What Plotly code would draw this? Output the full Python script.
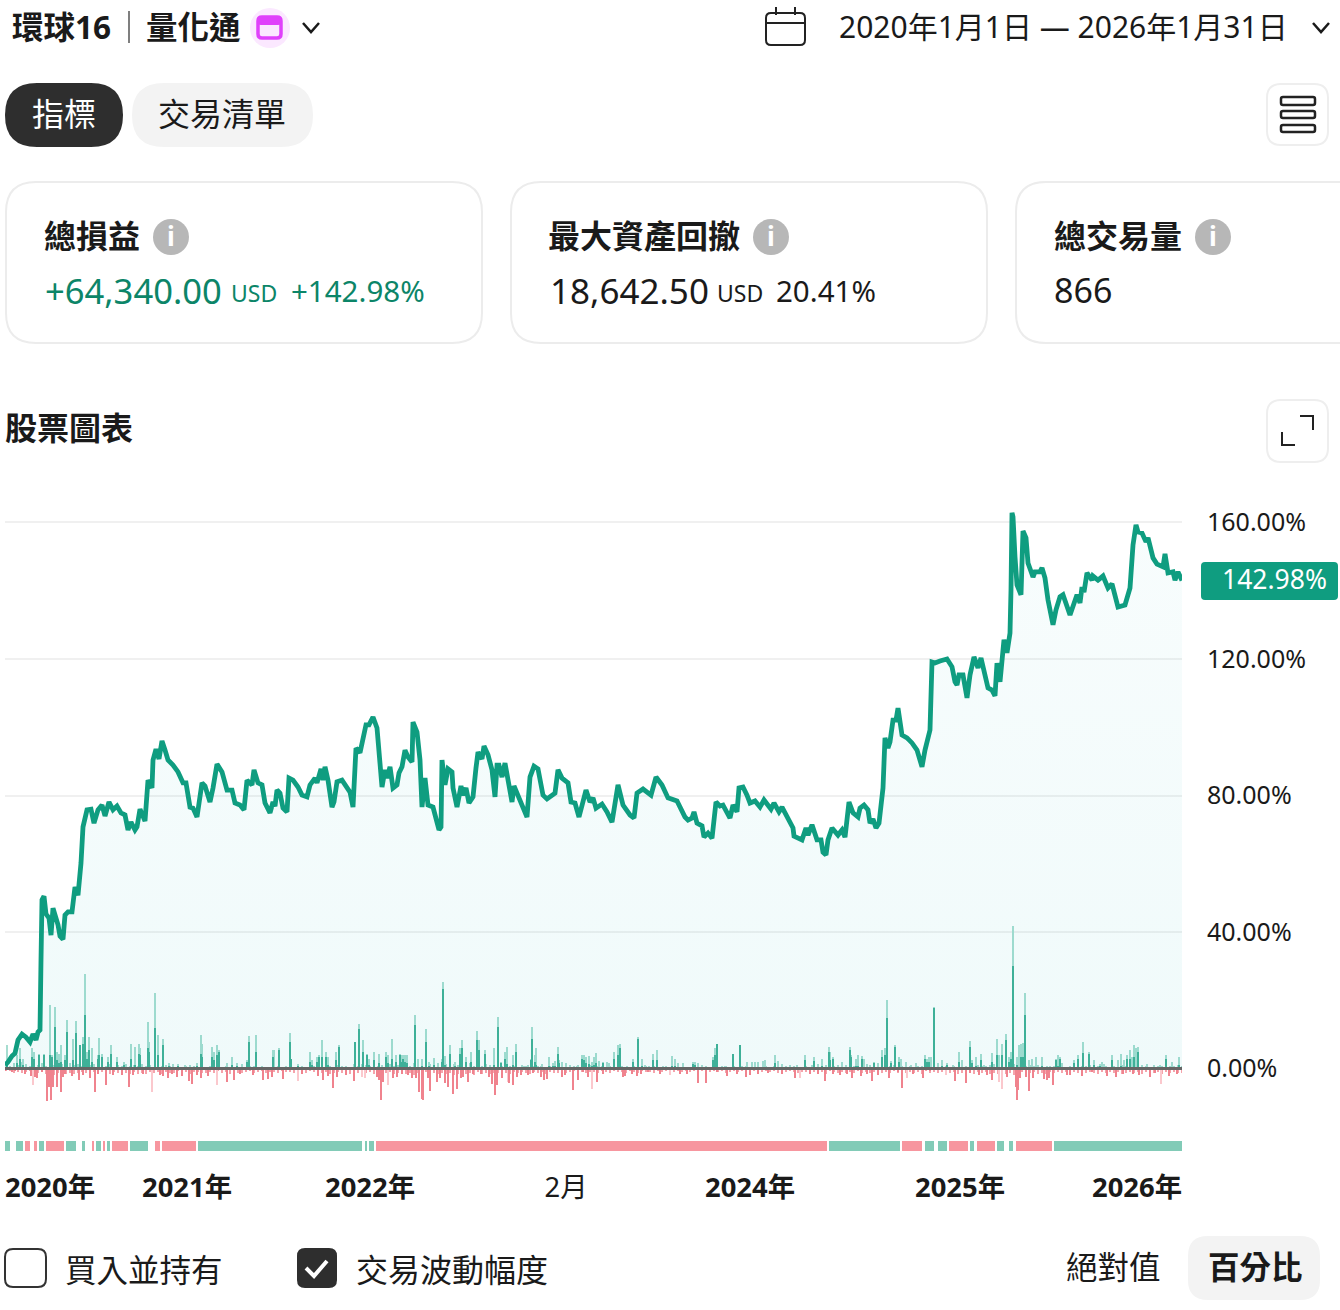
import plotly.graph_objects as go

W = 1340
H = 1310
FONT = "Noto Sans, Noto Sans CJK TC, sans-serif"
DARK = "#1a1a1a"
GREEN = "#0f9d80"
TEXT_GREEN = "#0c8568"

# equity curve (bar number, percent)
equity_bar = [0,3,7,10,13,17,21,25,28,31,33,35,36,37,39,41,44,46,48,51,53,55,58,60,63,67,70,73,76,78,80,82,86,89,93,97,100,104,108,112,116,120,123,126,130,132,135,140,143,147,148,151,154,157,160,163,168,173,178,181,185,188,192,197,200,205,208,212,217,222,227,230,235,239,242,247,249,253,257,260,265,268,270,272,275,278,282,284,288,293,297,302,305,310,312,316,318,320,323,327,329,332,337,342,345,348,351,355,358,361,364,368,372,375,377,380,382,385,388,392,394,397,400,403,407,408,412,415,417,420,423,428,434,436,437,440,443,447,448,452,456,458,461,464,468,471,473,477,479,483,487,490,492,494,497,500,505,507,509,513,517,522,525,529,533,538,542,550,553,557,563,566,570,574,581,585,588,591,597,602,607,613,618,625,629,632,638,646,651,657,663,672,680,683,687,689,692,697,699,703,707,711,715,718,725,728,732,734,738,742,745,750,755,759,766,769,774,777,783,788,789,797,801,803,807,812,816,818,821,823,827,833,837,840,844,848,853,855,859,863,865,868,871,874,878,880,883,885,888,891,893,897,902,907,912,917,920,925,927,930,935,942,947,950,952,954,958,962,965,969,973,976,983,987,990,992,995,999,1002,1005,1006,1007,1008,1010,1012,1016,1018,1021,1023,1028,1030,1035,1037,1040,1043,1048,1051,1055,1058,1065,1072,1075,1077,1079,1082,1087,1088,1093,1098,1103,1107,1113,1120,1125,1128,1131,1133,1137,1141,1143,1148,1152,1158,1160,1163,1168,1170,1173,1177]
equity_pct = [1.0,1.9,3.7,4.5,8.4,10.1,9.2,7.8,10.1,8.4,10.7,11.3,31.8,49.4,50.5,45.3,44.1,39.1,47.0,44.1,42.1,38.8,37.9,45.0,45.9,45.9,53.2,50.8,60.2,70.8,72.8,75.8,76.0,71.9,75.8,77.2,74.0,78.1,75.8,76.9,74.9,74.3,69.9,72.2,69.9,70.8,76.0,72.5,84.5,82.2,90.4,93.6,90.7,96.0,93.3,90.4,88.9,86.9,83.7,83.7,76.6,76.3,73.7,83.7,82.8,78.1,82.2,89.2,86.9,81.6,81.6,77.8,77.2,75.8,84.5,83.1,87.5,83.7,83.1,77.8,74.9,78.1,76.9,81.6,80.7,76.3,75.2,85.1,84.5,82.5,80.1,79.6,83.1,85.1,83.7,87.8,84.5,88.4,84.5,76.6,78.1,84.0,84.5,82.2,81.0,76.6,93.9,92.5,97.1,100.7,100.7,103.0,99.8,87.5,82.5,87.5,85.1,88.4,82.2,83.1,86.6,88.4,93.3,91.3,89.8,101.5,98.6,90.4,76.6,85.1,77.2,76.6,69.9,70.8,90.4,83.1,87.8,86.9,82.2,76.6,82.8,80.1,82.2,77.8,79.6,88.1,92.7,90.7,94.5,91.9,87.5,79.6,88.9,88.9,85.4,89.5,81.6,78.1,82.8,79.6,77.2,73.7,85.4,88.6,87.8,80.1,79.0,80.7,87.5,85.1,83.7,78.1,77.8,73.7,81.6,78.1,79.3,76.3,77.5,75.2,72.2,83.1,77.2,74.3,73.4,80.7,81.9,80.1,85.4,83.1,79.3,78.4,73.7,72.8,73.4,75.2,71.9,71.1,67.8,69.0,67.5,78.1,76.9,77.2,73.4,77.2,75.2,82.2,82.5,80.1,77.8,78.4,76.6,78.7,76.0,77.8,75.2,76.6,73.4,70.5,68.1,67.0,70.5,68.4,71.4,67.0,67.0,63.4,62.6,67.0,70.5,68.4,69.9,67.8,78.1,74.9,73.7,76.3,77.2,75.8,71.9,73.1,70.5,71.9,82.2,96.9,93.9,95.7,102.1,102.1,105.6,97.7,96.9,95.4,93.3,88.4,93.3,99.2,119.1,118.8,119.4,120.0,117.7,113.3,112.4,115.3,115.3,108.6,115.3,120.6,117.4,120.3,111.5,110.9,109.2,118.8,113.3,125.6,121.8,127.6,140.2,162.8,161.6,149.9,141.7,138.8,157.5,155.5,148.1,144.0,145.5,145.5,146.7,143.7,137.3,130.0,134.4,138.2,138.8,132.9,138.8,136.4,141.1,139.6,145.2,143.1,144.3,143.1,144.3,140.8,142.0,135.2,135.8,140.8,153.4,159.3,157.2,156.9,154.3,155.5,149.6,147.8,147.0,150.8,145.2,145.5,143.1,145.5,142.98]

# winning excursions: light bar is the run-up, dark bar the profit
win_bar = [2,12,15,18,27,29,34,39,45,47,50,52,54,56,60,62,68,71,75,78,80,82,84,87,93,94,97,103,106,112,119,126,130,134,135,143,144,150,153,158,164,168,173,180,185,192,196,197,207,209,212,214,222,227,232,237,242,244,251,268,269,274,285,286,293,305,307,312,314,317,321,323,331,334,350,354,358,362,364,369,374,381,383,387,391,395,
           396,398,400,402,410,413,417,421,424,429,437,438,440,445,450,455,457,461,466,472,474,480,489,493,496,500,502,508,511,519,523,526,527,530,531,536,544,548,550,553,554,557,561,565,572,577,579,581,584,587,589,591,594,598,602,604,609,613,615,622,628,633,637,640,644,648,652,658,667,670,673,678,688,690,693,697,708,710,712,720,728,735,742,747,750,753,758,760,770,773,777,785,792,
           800,807,809,813,817,824,825,828,833,837,845,846,851,853,857,859,862,865,869,873,877,880,882,886,890,894,896,901,906,911,920,922,924,926,929,933,937,942,948,954,957,965,967,971,976,979,987,992,994,997,1001,1004,1006,1008,1012,1014,1016,1018,1020,1024,1027,1031,1037,1042,1051,1053,1055,1057,1069,1073,1078,1084,1089,1095,1097,1099,1107,1113,1116,1119,1122,1125,1127,1129,1131,1133,1137,1142,1155,1161,1167,1174,1177]
win_runup = [6.8,3.9,5.9,2.9,5.9,4.9,4.4,4.4,18.6,3.9,18.1,4.9,4.4,6.8,3.9,14.2,8.8,13.9,6.8,9.3,27.8,4.9,9.3,5.9,3.9,9.0,4.4,3.4,6.8,3.4,2.0,7.3,6.3,7.3,5.9,13.7,7.8,22.0,9.8,8.8,1.5,1.2,1.2,1.0,1.0,1.5,9.8,7.3,6.3,4.9,6.8,5.4,1.5,3.4,1.5,1.2,2.4,9.6,9.8,5.4,5.4,5.9,10.4,2.9,1.2,4.9,2.4,3.4,4.1,8.3,4.9,3.4,4.9,7.0,7.8,13.2,8.3,4.4,2.9,4.9,4.4,4.9,3.9,8.8,3.9,4.4,
             3.9,3.9,4.1,3.9,15.6,2.9,2.9,11.5,2.0,3.1,2.9,25.4,3.7,6.8,2.0,5.9,8.3,3.4,4.9,10.9,8.3,5.4,5.9,15.1,2.0,4.9,6.3,3.9,7.3,0.8,1.0,2.9,12.2,3.9,5.9,0.8,3.4,1.5,2.1,6.3,2.4,2.0,1.5,1.0,0.8,3.9,3.9,3.4,3.7,2.0,3.4,4.7,2.1,1.8,2.0,1.5,4.9,6.8,7.3,0.8,2.9,9.3,2.9,1.0,0.8,4.4,5.4,0.8,3.7,2.9,1.5,1.5,2.0,2.0,1.5,1.0,3.4,5.9,7.3,0.8,4.4,7.0,2.0,2.0,2.0,2.0,2.1,2.4,3.9,2.1,1.2,1.0,1.0,
             3.9,1.0,3.4,1.2,2.9,6.3,4.9,3.4,1.0,1.8,6.3,3.9,2.9,3.9,3.7,2.9,1.2,1.0,2.0,1.5,5.4,5.9,20.0,2.1,7.0,3.4,2.9,2.0,1.0,1.5,3.9,2.7,3.4,3.4,18.1,1.5,2.4,1.5,1.0,4.9,2.4,8.1,2.4,3.4,4.4,1.0,4.7,8.6,3.9,7.3,10.0,3.4,4.9,41.7,3.4,6.8,7.3,7.6,22.0,2.4,2.9,3.4,3.4,0.8,2.9,3.9,3.4,1.5,2.4,3.9,7.8,4.9,2.4,1.2,2.0,1.2,3.9,2.4,4.4,2.4,3.9,5.4,3.4,6.8,5.9,6.3,0.8,1.2,1.0,3.9,2.0,3.4,0.8]
win_profit = [2.0,1.5,2.9,1.0,3.4,2.9,3.9,3.9,3.9,3.4,12.2,2.4,1.5,2.0,2.4,10.7,2.4,10.3,6.8,7.3,15.6,2.9,5.4,2.0,2.9,3.9,3.4,2.0,4.4,2.0,1.0,2.9,1.0,4.4,3.9,5.9,4.9,11.9,3.9,6.8,0.8,0.5,0.8,0.5,0.5,0.8,4.4,3.4,3.4,2.4,3.9,4.9,0.5,1.0,0.8,0.5,2.0,7.8,4.9,3.4,0.5,5.4,7.8,2.9,0.8,2.0,1.0,2.0,3.4,3.4,3.4,1.0,2.4,6.3,7.8,11.7,4.9,3.9,1.0,2.4,1.5,3.4,1.5,2.9,2.0,3.9,
              2.0,2.9,2.0,1.5,12.7,0.5,0.8,7.8,0.8,1.0,2.0,23.4,1.0,4.4,0.8,4.4,5.9,2.0,2.0,8.3,5.4,4.4,1.0,12.2,1.5,2.9,1.2,1.0,4.9,0.5,0.5,2.4,8.8,2.0,1.0,0.4,0.8,0.8,0.8,4.4,1.5,0.5,0.5,0.4,0.4,2.7,2.4,1.5,1.2,0.8,1.0,1.5,0.5,1.5,0.5,0.5,2.9,3.9,5.9,0.4,2.0,8.8,0.8,0.4,0.4,2.4,2.4,0.4,0.8,0.8,0.5,0.5,1.2,1.0,0.5,0.4,2.4,3.9,7.3,0.4,4.4,6.8,0.5,0.5,0.5,0.5,0.5,0.5,1.5,0.5,0.4,0.4,0.4,
              2.4,0.4,2.1,0.4,0.8,4.9,2.4,2.7,0.4,0.5,5.4,3.4,0.8,0.8,2.9,0.5,0.4,0.4,1.5,0.5,3.4,3.9,14.8,1.5,6.3,2.0,0.5,0.5,0.4,0.5,2.9,2.0,2.0,0.5,17.8,0.5,0.8,1.0,0.4,2.0,0.5,6.3,1.5,0.8,2.4,0.4,2.0,4.1,0.5,3.9,8.3,2.0,2.9,30.0,1.0,0.5,3.4,3.4,15.6,0.5,0.5,0.5,0.8,0.4,2.4,0.8,2.9,0.5,1.5,2.9,4.7,4.4,1.0,0.8,0.5,0.5,2.4,0.5,0.8,0.5,2.9,2.9,0.5,3.4,0.5,4.9,0.4,0.5,0.4,2.9,0.5,1.0,0.4]

# drawdown side
loss_bar = [0,7,10,20,26,30,32,37,42,44,46,48,52,56,58,60,67,74,78,85,90,93,101,108,117,124,128,138,155,158,163,167,172,177,184,187,192,196,203,222,229,235,248,258,263,267,278,297,313,318,323,328,332,341,349,372,374,376,378,388,392,
            397,403,407,411,414,417,418,423,425,432,435,440,443,448,452,456,458,463,468,476,484,487,490,492,497,504,508,512,516,523,528,536,539,542,557,560,568,573,578,583,592,598,618,620,627,632,636,643,655,675,682,693,701,712,722,732,741,745,753,763,777,790,
            805,813,820,828,835,842,847,856,862,867,873,884,893,897,908,918,925,950,961,965,974,982,987,1002,1011,1012,1013,1015,1021,1024,1028,1039,1042,1044,1048,1062,1065,1077,1087,1102,1111,1118,1128,1134,1145,1150,1164,1172,1178]
loss_pct = [0.8,1.0,0.8,1.5,2.1,2.4,2.7,1.0,9.6,5.4,9.3,5.4,5.4,6.8,2.4,1.5,2.1,3.4,2.0,2.7,7.0,1.5,4.7,1.8,2.0,5.4,2.0,1.5,2.0,2.1,2.9,1.5,2.4,2.1,3.7,4.4,2.0,2.9,2.1,3.9,3.4,1.5,2.0,3.4,3.1,2.4,3.1,1.5,2.1,3.4,2.1,5.7,2.4,2.0,3.7,2.4,3.4,9.3,3.9,2.9,2.4,
            1.5,2.0,2.9,2.9,7.0,8.8,9.3,2.9,6.6,3.9,2.7,4.1,5.4,7.3,5.9,2.9,2.4,3.9,1.5,1.5,2.4,4.4,7.6,4.9,2.9,4.1,4.9,2.4,2.0,2.0,1.2,2.4,3.4,3.1,2.4,2.0,6.3,3.4,1.0,2.4,3.9,1.5,2.4,2.1,1.5,2.1,1.5,1.0,1.5,1.5,1.5,4.1,4.1,1.0,2.1,1.5,2.4,1.8,1.5,1.2,1.5,2.7,
            1.5,1.5,3.7,1.5,2.0,1.5,2.7,2.1,1.5,3.7,1.8,2.9,1.0,5.7,1.5,2.9,0.8,3.6,4.1,1.2,2.0,2.0,3.4,2.4,5.4,9.3,6.3,2.9,2.4,6.6,2.9,3.1,3.4,2.9,4.7,2.0,2.0,2.1,1.0,2.1,2.4,1.5,1.5,2.0,2.4,1.2,2.1,1.5,1.8]
adverse_bar = [28,147,212,293,357,360,383,503,587,665,795,902,941,994,997,1156]
adverse_pct = [4.7,6.8,4.7,3.7,2.4,2.9,4.9,3.9,5.9,2.0,2.9,2.9,2.0,3.9,5.9,4.4]

# the small trades along the zero line, too many to read one by one so these are estimates
small_bar = [1,5,9,13,17,21,25,29,33,37,41,45,49,53,57,61,65,69,73,77,81,85,89,93,97,
             101,105,109,113,117,121,125,129,133,137,141,145,149,153,157,161,165,169,173,177,181,185,189,193,197,
             201,205,209,213,217,221,225,229,233,237,241,245,249,253,257,261,265,269,273,277,281,285,289,293,297,
             301,305,309,313,317,321,325,329,333,337,341,345,349,353,357,361,365,369,373,377,381,385,389,393,397,
             401,405,409,413,417,421,425,429,433,437,441,445,449,453,457,461,465,469,473,477,481,485,489,493,497,
             501,505,509,513,517,521,525,529,533,537,541,545,549,553,557,561,565,569,573,577,581,585,589,593,597,
             601,605,609,613,617,621,625,629,633,637,641,645,649,653,657,661,665,669,673,677,681,685,689,693,697,
             701,705,709,713,717,721,725,729,733,737,741,745,749,753,757,761,765,769,773,777,781,785,789,793,797,
             801,805,809,813,817,821,825,829,833,837,841,845,849,853,857,861,865,869,873,877,881,885,889,893,897,
             901,905,909,913,917,921,925,929,933,937,941,945,949,953,957,961,965,969,973,977,981,985,989,993,997,
             1001,1005,1009,1013,1017,1021,1025,1029,1033,1037,1041,1045,1049,1053,1057,1061,1065,1069,1073,1077,1081,1085,1089,1093,1097,
             1101,1105,1109,1113,1117,1121,1125,1129,1133,1137,1141,1145,1149,1153,1157,1161,1165,1169,1173,1177]
small_up = [1.2,0.8,1.5,1.0,1.8,1.2,0.9,1.4,1.1,1.6,0.8,1.3,1.0,1.9,1.2,0.9,1.5,1.1,1.3,0.7,1.6,1.0,1.2,0.8,1.4,
            0.9,1.3,0.6,1.0,0.8,1.2,0.7,1.1,0.9,1.4,0.8,1.0,0.6,1.3,0.9,1.1,0.7,0.5,0.9,0.4,0.7,0.5,0.8,0.6,0.9,
            0.5,0.8,0.4,0.7,0.6,0.9,0.4,0.6,0.5,0.8,0.4,0.7,0.9,0.5,0.8,0.4,0.6,0.5,0.7,0.4,0.8,0.5,0.6,0.4,0.7,
            0.6,1.0,0.8,1.2,0.7,1.1,0.9,0.6,1.0,0.7,0.9,0.5,1.2,0.8,1.4,1.0,0.7,1.3,0.9,1.1,0.8,1.2,0.7,1.0,0.9,
            1.2,0.9,1.5,0.8,1.1,0.7,1.3,1.0,1.6,0.9,1.2,0.8,1.4,1.0,1.1,0.7,1.5,0.9,1.2,0.8,1.3,1.0,0.7,1.1,0.9,
            1.0,0.7,0.9,0.6,1.1,0.8,0.5,0.7,0.9,1.2,0.6,0.8,0.5,1.0,0.7,0.9,0.6,0.8,1.1,0.7,0.9,1.0,0.6,0.8,0.7,
            0.6,0.8,0.5,0.7,0.9,0.6,0.5,0.8,0.6,0.9,0.7,0.5,0.8,0.6,0.4,0.7,0.5,0.6,0.8,0.5,0.4,0.6,0.7,0.5,0.6,
            0.7,0.5,0.8,0.6,0.9,0.7,0.5,0.8,0.6,0.7,0.9,0.5,0.6,0.8,0.5,0.7,0.6,0.8,0.9,0.5,0.7,0.6,0.8,0.5,0.6,
            0.8,0.6,0.9,0.5,0.7,1.0,0.6,0.8,0.5,0.9,1.1,0.7,0.8,0.5,0.9,0.6,0.7,1.0,0.8,0.6,0.9,0.7,1.1,0.6,0.8,
            0.6,0.8,0.5,0.7,0.9,0.6,0.8,0.5,0.7,0.6,0.9,0.5,0.8,0.6,1.0,0.7,0.9,0.6,1.1,0.8,0.7,1.0,1.2,0.8,1.1,
            1.3,0.9,1.2,1.0,1.4,0.8,1.1,0.7,1.0,0.8,0.6,0.9,0.7,0.6,0.8,0.5,0.7,0.9,0.6,0.8,0.7,1.0,0.6,0.9,0.7,
            0.8,0.6,0.9,0.7,1.0,0.8,0.6,0.9,0.7,1.1,0.8,0.6,1.0,0.7,0.9,0.6,0.8,0.7,1.0,0.8]
small_down = [0.8,0.6,1.2,0.9,1.4,1.0,0.7,1.6,1.2,0.9,1.5,1.1,1.8,1.3,1.0,1.5,1.2,1.7,1.4,1.0,1.3,1.6,1.1,1.4,0.9,
              1.2,1.6,1.0,1.4,0.9,1.3,1.7,1.1,1.5,1.2,1.6,0.9,1.3,1.1,1.5,1.0,1.4,1.2,0.8,1.3,1.0,1.5,1.1,0.9,1.2,
              1.4,1.0,1.2,0.8,1.3,1.1,1.5,0.9,1.2,1.4,1.0,0.8,1.3,1.1,0.7,1.2,0.9,1.0,1.3,0.8,1.1,0.9,1.2,0.7,1.0,
              1.2,0.8,1.1,0.9,1.3,1.0,1.5,1.2,0.9,1.4,1.1,1.6,1.0,1.3,1.7,1.4,1.1,1.5,1.2,1.8,1.3,1.0,1.6,1.2,1.4,
              1.5,1.2,1.8,1.3,1.6,1.1,1.9,1.4,1.7,1.2,1.6,1.3,1.9,1.5,1.2,1.7,1.4,1.8,1.1,1.5,1.3,1.6,1.2,1.4,1.1,
              1.3,1.6,1.1,1.4,0.9,1.2,1.5,1.0,1.3,1.1,1.6,0.9,1.2,1.4,1.0,1.3,1.1,0.8,1.2,1.0,1.4,0.9,1.1,1.3,0.8,
              1.0,1.2,0.8,1.1,0.9,1.3,0.7,1.0,1.2,0.8,1.1,0.9,1.3,0.7,1.0,0.8,1.2,0.9,0.7,1.1,0.8,1.0,0.6,0.9,0.7,
              0.9,1.1,0.7,1.0,0.8,1.2,0.9,0.7,1.1,0.8,1.0,1.2,0.7,0.9,1.1,0.8,1.0,0.7,1.2,0.9,1.1,0.8,1.0,1.3,0.9,
              1.1,1.4,0.9,1.2,1.0,1.5,0.8,1.1,1.3,0.9,1.2,1.0,1.4,0.8,1.2,1.0,1.3,0.9,1.1,1.4,1.0,1.2,0.8,1.3,1.0,
              1.2,0.9,1.3,1.0,1.5,0.8,1.2,1.0,1.4,0.9,1.1,1.3,1.0,1.5,1.2,0.9,1.3,1.6,1.1,1.4,1.0,1.7,1.2,1.5,1.3,
              1.6,1.2,1.8,1.4,1.1,1.6,1.3,1.0,1.5,1.2,1.7,1.1,1.4,0.9,1.3,1.0,1.2,0.9,1.4,1.1,1.3,1.0,1.2,1.5,1.0,
              1.3,1.0,1.4,1.1,1.6,1.2,0.9,1.3,1.1,1.5,1.0,1.4,1.2,0.9,1.5,1.1,1.3,1.0,1.4,1.2]

# strip under the chart, winning and losing runs (bar from / bar to)
up_from = [0,11,34,61,77,91,102,125,193,360,364,824,920,933,965,992,1004,1049]
up_to = [5,18,39,71,80,96,105,143,357,362,369,895,929,942,969,999,1008,1177]
down_from = [20,29,41,87,98,107,150,157,371,897,944,972,1011]
down_to = [25,32,59,89,100,123,155,191,822,917,963,990,1047]

tick_bar = [45,182,365,561,745,955,1132]
tick_text = ["<b>2020年</b>","<b>2021年</b>","<b>2022年</b>","2月","<b>2024年</b>","<b>2025年</b>","<b>2026年</b>"]
pct_ticks = [0,40,80,120,160]
pct_text = ["0.00%","40.00%","80.00%","120.00%","160.00%"]


def px(x):
    return x / W


def py(y):
    return 1 - y / H


def round_rect(x0, y0, x1, y1, r):
    p = "M%f,%f " % (px(x0 + r), py(y0))
    p += "L%f,%f Q%f,%f %f,%f " % (px(x1 - r), py(y0), px(x1), py(y0), px(x1), py(y0 + r))
    p += "L%f,%f Q%f,%f %f,%f " % (px(x1), py(y1 - r), px(x1), py(y1), px(x1 - r), py(y1))
    p += "L%f,%f Q%f,%f %f,%f " % (px(x0 + r), py(y1), px(x0), py(y1), px(x0), py(y1 - r))
    p += "L%f,%f Q%f,%f %f,%f Z" % (px(x0), py(y0 + r), px(x0), py(y0), px(x0 + r), py(y0))
    return p


def box(x0, y0, x1, y1, r, fill="rgba(0,0,0,0)", line=None, lw=2):
    return dict(type="path", path=round_rect(x0, y0, x1, y1, r), xref="paper", yref="paper",
                fillcolor=fill, line=dict(color=line or "rgba(0,0,0,0)", width=lw if line else 0))


def poly(points, color=DARK, lw=2.5):
    p = "M" + " L".join("%f,%f" % (px(a), py(b)) for a, b in points)
    return dict(type="path", path=p, xref="paper", yref="paper", line=dict(color=color, width=lw))


def dot(cx, cy, r, fill):
    return dict(type="circle", xref="paper", yref="paper", x0=px(cx - r), x1=px(cx + r),
                y0=py(cy + r), y1=py(cy - r), fillcolor=fill, line=dict(width=0))


def label(text, x, y, size, color=DARK, bold=False, anchor="left"):
    return dict(text="<b>%s</b>" % text if bold else text, x=px(x), y=py(y - 2), xref="paper", yref="paper",
                xanchor=anchor, yanchor="middle", showarrow=False, borderpad=0,
                font=dict(family=FONT, size=size, color=color))


fig = go.Figure()

# area first so the bars are not drawn over by the line
fig.add_trace(go.Scatter(x=equity_bar, y=equity_pct, mode="none", fill="tozeroy",
                         fillgradient=dict(type="vertical", colorscale=[[0, "rgba(20,180,185,0.065)"], [1, "rgba(20,180,185,0.03)"]])))
fig.add_trace(go.Bar(x=small_bar, y=small_up, marker_color="#a6ddd0", width=1.5, marker_line_width=0))
fig.add_trace(go.Bar(x=small_bar, y=[-v for v in small_down], marker_color="#f5a3ab", width=2, marker_line_width=0))
fig.add_trace(go.Bar(x=win_bar, y=win_runup, marker_color="#a6ddd0", width=1, marker_line_width=0))
fig.add_trace(go.Bar(x=win_bar, y=win_profit, marker_color="#41b096", width=1, marker_line_width=0))
fig.add_trace(go.Bar(x=adverse_bar, y=[-v for v in adverse_pct], marker_color="#fbc8cd", width=1, marker_line_width=0))
fig.add_trace(go.Bar(x=loss_bar, y=[-v for v in loss_pct], marker_color="#f0838e", width=1, marker_line_width=0))
fig.add_trace(go.Scatter(x=equity_bar, y=equity_pct, mode="lines", line=dict(color=GREEN, width=4.8)))

fig.add_trace(go.Bar(y=[0] * len(up_from), base=up_from, x=[b - a for a, b in zip(up_from, up_to)], orientation="h",
                     marker_color="#82cbb7", width=1, marker_line_width=0, yaxis="y2"))
fig.add_trace(go.Bar(y=[0] * len(down_from), base=down_from, x=[b - a for a, b in zip(down_from, down_to)], orientation="h",
                     marker_color="#f7969f", width=1, marker_line_width=0, yaxis="y2"))

shapes = [
    poly([(129, 11), (129, 43)], "#555555", 1.5),
    dot(270, 28, 20, "#fbe8ff"),
    box(258, 17, 281, 38, 4, "#fbe8ff", "#e040fb", 3.5),
    box(258, 17, 281, 24, 3, "#e040fb", "#e040fb", 2),
    poly([(303, 23), (311, 32), (319, 23)]),
    box(766, 13, 805, 45, 5, "rgba(0,0,0,0)", "#222222", 2),
    poly([(766, 23), (805, 23)], "#222222", 2),
    poly([(776, 7), (776, 15)], "#222222", 2),
    poly([(795, 7), (795, 15)], "#222222", 2),
    poly([(1313, 23), (1321, 32), (1329, 23)]),
    box(5, 83, 123, 147, 32, "#2e2e2e"),
    box(132, 83, 313, 147, 32, "#f3f3f3"),
    box(1267, 84, 1328, 145, 14, "#ffffff", "#eeeeee", 2),
    box(1281, 97, 1315, 105, 2, "#ffffff", "#222222", 2.5),
    box(1281, 111, 1315, 118, 2, "#ffffff", "#222222", 2.5),
    box(1281, 125, 1315, 132, 2, "#ffffff", "#222222", 2.5),
    box(6, 182, 482, 343, 30, "#ffffff", "#ececec", 2),
    box(511, 182, 987, 343, 30, "#ffffff", "#ececec", 2),
    box(1016, 182, 1400, 343, 30, "#ffffff", "#ececec", 2),
    dot(171, 237, 18, "#b7b7b7"),
    dot(771, 237, 18, "#b7b7b7"),
    dot(1213, 237, 18, "#b7b7b7"),
    box(1267, 400, 1328, 462, 14, "#ffffff", "#eeeeee", 2),
    poly([(1300, 416), (1313, 416), (1313, 430)], "#222222", 2),
    poly([(1282, 432), (1282, 445), (1295, 445)], "#222222", 2),
    box(1201, 562, 1338, 600, 4, GREEN),
    box(5, 1249, 46, 1287, 8, "#ffffff", "#333333", 2),
    box(297, 1248, 337, 1288, 8, "#2e2e2e"),
    poly([(306, 1268), (314, 1276), (327, 1261)], "#ffffff", 4),
    box(1188, 1236, 1320, 1300, 20, "#f3f3f3"),
]

annotations = [
    label("環球16", 11, 28, 31.5, bold=True),
    label("量化通", 145, 28, 31.5, bold=True),
    label("2020年1月1日 — 2026年1月31日", 838, 28, 30),
    label("指標", 64, 115, 32, "#ffffff", anchor="center"),
    label("交易清單", 222, 115, 32, anchor="center"),
    label("總損益", 43, 238, 32, bold=True),
    label("i", 171, 238, 26, "#ffffff", bold=True, anchor="center"),
    label("+64,340.00", 44, 292, 34.6, TEXT_GREEN),
    label("USD", 230, 295, 23, TEXT_GREEN),
    label("+142.98%", 290, 293, 29.5, TEXT_GREEN),
    label("最大資產回撤", 547, 238, 32, bold=True),
    label("i", 771, 238, 26, "#ffffff", bold=True, anchor="center"),
    label("18,642.50", 549, 292, 35),
    label("USD", 716, 295, 23),
    label("20.41%", 775, 293, 29.5),
    label("總交易量", 1053, 238, 32, bold=True),
    label("i", 1213, 238, 26, "#ffffff", bold=True, anchor="center"),
    label("866", 1053, 292, 34),
    label("股票圖表", 4, 429, 32, bold=True),
    label("142.98%", 1221, 581, 26.5, "#ffffff"),
    label("買入並持有", 64, 1271, 31.5),
    label("交易波動幅度", 355, 1271, 32),
    label("絕對值", 1065, 1268, 31.5),
    label("百分比", 1207, 1268, 31.5, bold=True),
]

fig.update_layout(
    width=W, height=H, margin=dict(l=0, r=0, t=0, b=0),
    paper_bgcolor="#ffffff", plot_bgcolor="#ffffff",
    showlegend=False, barmode="overlay", bargap=0,
    font=dict(family=FONT, color=DARK),
    shapes=shapes, annotations=annotations,
    xaxis=dict(domain=[px(5), px(1182)], range=[0, 1177], anchor="y2", showgrid=False, zeroline=False, showline=False,
               ticks="", tickmode="array", tickvals=tick_bar, ticktext=tick_text, ticklabelstandoff=18,
               tickfont=dict(size=27.4, family=FONT, color=DARK)),
    yaxis=dict(domain=[py(1115), py(490)], range=[-13.6, 169.5], side="right", anchor="x", showline=False, ticks="",
               tickmode="array", tickvals=pct_ticks, ticktext=pct_text, ticklabelstandoff=24,
               gridcolor="#f0f0f0", gridwidth=1.5, zeroline=True, zerolinecolor="#666666", zerolinewidth=2.5,
               zerolinelayer="above traces", tickfont=dict(size=25, family=FONT, color=DARK)),
    yaxis2=dict(domain=[py(1151), py(1141)], range=[-0.5, 0.5], anchor="x", visible=False),
)

fig.write_html("out.html", config=dict(displayModeBar=False),
               post_script="document.body.style.margin='0';document.body.style.overflow='hidden';")
